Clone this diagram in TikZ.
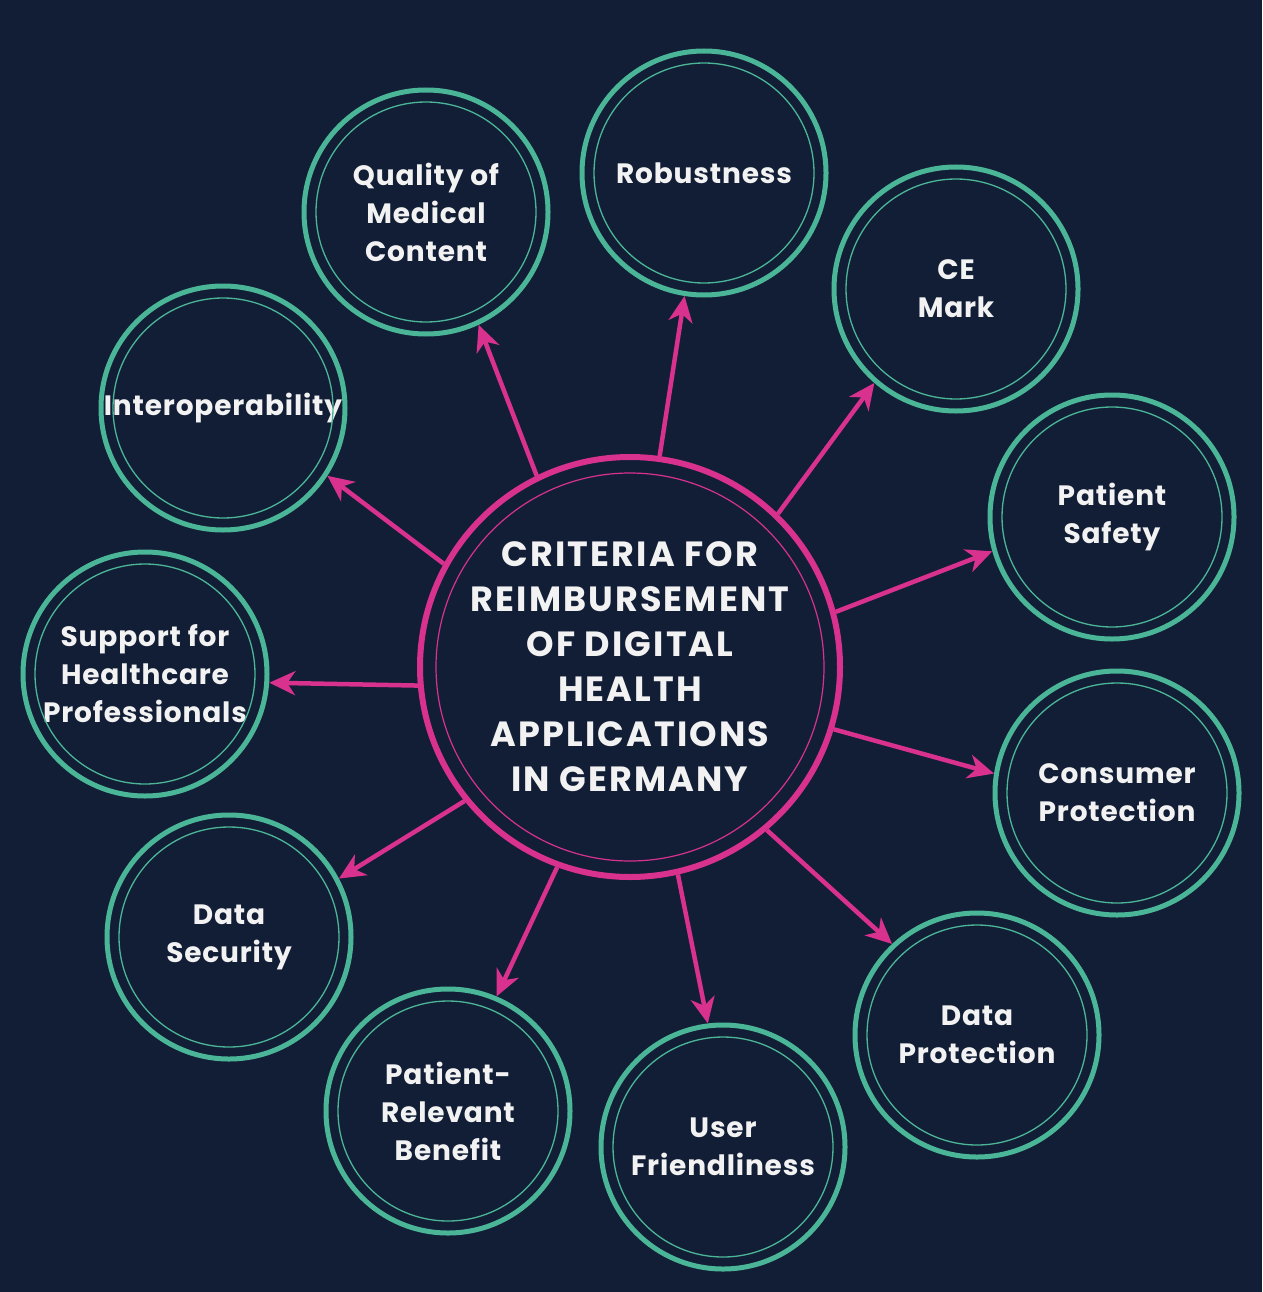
\documentclass[tikz,border=0pt]{standalone}
\usepackage{fontspec}
\setmainfont{Poppins}
\usetikzlibrary{arrows.meta, positioning}
\definecolor{navy}{HTML}{121E36}
\definecolor{ringteal}{HTML}{4BB697}
\definecolor{hubpink}{HTML}{D8318E}
\definecolor{labelwhite}{HTML}{F2F2F2}

\begin{document}
\begin{tikzpicture}[x=1pt, y=-1pt,
  sat/.style={circle, draw=ringteal, fill=navy, line width=5pt, minimum size=244pt, inner sep=0pt,
    align=center, text=labelwhite, font=\fontsize{28}{38}\selectfont\bfseries\addfontfeatures{LetterSpace=3}},
  hub/.style={circle, draw=hubpink, fill=navy, line width=6pt, minimum size=420pt, inner sep=0pt,
    align=center, text=labelwhite, font=\fontsize{35}{45}\selectfont\bfseries\addfontfeatures{LetterSpace=6}},
  spoke/.style={hubpink, line width=4.5pt, -{Stealth[length=26pt, width=24pt, inset=8pt]}}]
  % Background
  \fill[navy] (0,0) rectangle (1262,1292);
  \useasboundingbox (0,0) rectangle (1262,1292);

  % Centre
  \node[hub] (hub) at (630,667) {CRITERIA FOR\\REIMBURSEMENT\\OF DIGITAL\\HEALTH\\APPLICATIONS\\IN GERMANY};
  \draw[hubpink, line width=1.2pt] (hub.center) circle (194pt);

  % Criteria
  \foreach \name/\x/\y/\label in {
      qual/426/212/{Quality of\\Medical\\Content},
      rob/704/173/{Robustness},
      ce/956/289/{CE\\Mark},
      safety/1112/517/{Patient\\Safety},
      consumer/1117/793/{Consumer\\Protection},
      dprot/977/1035/{Data\\Protection},
      user/723/1147/{User\\Friendliness},
      benefit/448/1111/{Patient-\\Relevant\\Benefit},
      dsec/229/937/{Data\\Security},
      support/145/674/{Support for\\Healthcare\\Professionals},
      interop/223/408/{Interoperability}} {
    \node[sat] (\name) at (\x,\y) {\label};
    \draw[ringteal, line width=1.3pt] (\name.center) circle (110pt);
  }

  % Spokes
  \foreach \name/\a/\b in {qual/116/295, rob/82/261, ce/46/229, safety/15/196,
      consumer/343/171, dprot/310/133, user/283/97, benefit/250/67,
      dsec/219/28, support/185/356, interop/151/327}
    \draw[spoke] (hub.\a) -- (\name.\b);
\end{tikzpicture}
\end{document}
